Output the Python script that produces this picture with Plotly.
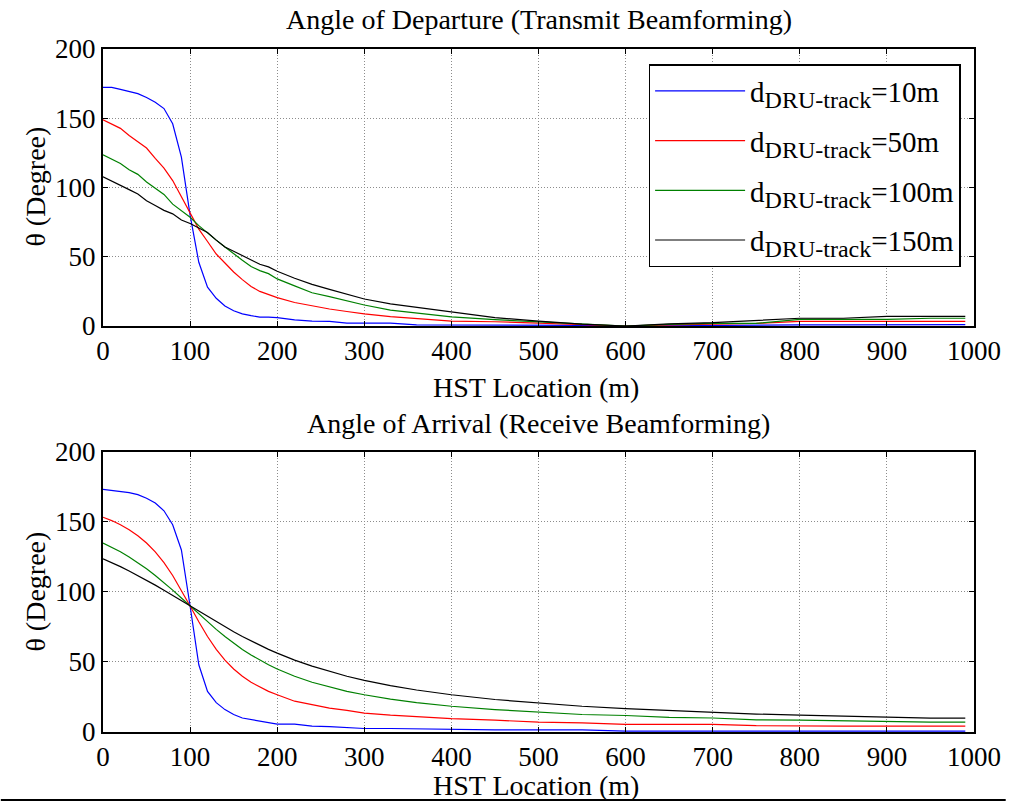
import plotly.graph_objects as go

# ---------------- data ----------------
x_pos = [0, 10, 20, 30, 40, 50, 60, 70, 80, 90,
         100, 110, 120, 130, 140, 150, 160, 170, 180, 190,
         200, 220, 240, 260, 280, 300, 330, 360, 400, 450,
         500, 550, 600, 650, 700, 750, 800, 850, 900, 950,
         990]

series_labels = ["10m", "50m", "100m", "150m"]
series_colors = ["#0000FF", "#FF0000", "#008000", "#000000"]

# Angle of Departure (top)
aod_10 = [172.3, 172.3, 170.8, 169.5, 167.8, 165.0, 161.5, 157.0, 146.0, 122.0,
          80.0, 46.0, 28.0, 20.0, 14.5, 11.0, 8.8, 7.5, 6.4, 6.4,
          6.0, 4.5, 3.5, 3.3, 2.1, 2.1, 2.1, 0.8, 0.8, 0.7,
          0.6, 0.5, 0.0, 0.3, 0.5, 0.7, 0.8, 0.9, 0.9, 1.0,
          1.0]
aod_50 = [148.9, 146.0, 142.7, 137.5, 133.0, 128.5, 121.0, 114.0, 105.0, 93.0,
          81.0, 70.0, 61.0, 52.0, 45.5, 39.0, 33.5, 28.5, 25.0, 22.5,
          20.5, 17.0, 14.5, 12.3, 10.5, 8.8, 6.8, 5.3, 3.6, 3.1,
          1.9, 0.8, 0.0, 0.8, 1.2, 1.9, 3.3, 3.3, 3.3, 3.3,
          3.3]
aod_100 = [123.6, 120.5, 117.3, 112.8, 109.5, 104.0, 99.5, 95.0, 88.0, 83.0,
           78.5, 72.5, 67.0, 62.0, 57.0, 52.0, 47.5, 43.0, 40.0, 37.8,
           34.0, 29.0, 24.0, 21.2, 18.0, 15.2, 11.5, 9.4, 6.6, 4.6,
           3.0, 1.7, 0.0, 1.2, 1.9, 1.9, 4.8, 4.8, 4.8, 5.6,
           5.6]
aod_150 = [107.8, 104.5, 101.5, 98.5, 95.3, 90.5, 87.0, 83.5, 81.0, 76.5,
           74.0, 70.5, 67.5, 62.0, 57.0, 54.0, 51.0, 47.5, 44.6, 42.7,
           39.5, 34.5, 30.1, 26.5, 22.8, 19.5, 16.0, 13.5, 10.0, 6.0,
           3.6, 1.4, 0.0, 1.5, 2.4, 4.1, 5.6, 5.6, 7.0, 7.0,
           7.0]

# Angle of Arrival (bottom)
aoa_10 = [173.3, 172.5, 172.0, 171.0, 169.5, 167.0, 163.5, 158.0, 148.0, 130.0,
          90.0, 48.0, 29.0, 21.0, 16.0, 12.5, 10.0, 8.8, 7.8, 6.8,
          5.6, 5.6, 4.2, 3.9, 3.0, 2.5, 2.5, 2.2, 1.5, 1.5,
          1.5, 1.5, 0.6, 0.6, 0.6, 0.6, 0.6, 0.6, 0.6, 0.6,
          0.6]
aoa_50 = [153.4, 151.0, 148.0, 144.5, 140.2, 135.0, 128.7, 121.0, 111.8, 101.3,
          90.0, 78.7, 68.2, 59.0, 51.3, 45.0, 39.8, 35.5, 32.0, 29.0,
          26.6, 22.0, 19.5, 17.0, 15.5, 13.5, 12.0, 11.0, 9.5, 8.5,
          7.0, 6.5, 5.5, 5.5, 5.5, 4.5, 4.2, 4.2, 4.2, 4.2,
          4.2]
aoa_100 = [135.0, 132.0, 128.7, 125.0, 121.0, 116.6, 111.8, 106.7, 101.3, 95.7,
           90.0, 84.3, 78.7, 73.3, 68.2, 63.4, 59.0, 55.0, 51.3, 48.0,
           45.0, 39.8, 35.5, 32.0, 29.0, 26.6, 23.5, 21.0, 18.4, 16.0,
           14.2, 12.5, 11.8, 10.5, 10.0, 8.7, 8.5, 8.0, 7.2, 7.0,
           7.0]
aoa_150 = [123.7, 121.0, 118.1, 115.0, 111.8, 108.4, 104.9, 101.3, 97.6, 93.8,
           90.0, 86.2, 82.4, 78.7, 75.1, 71.6, 68.2, 65.0, 61.9, 59.0,
           56.3, 51.3, 47.0, 43.2, 39.8, 36.9, 33.1, 30.0, 26.6, 23.2,
           20.6, 18.4, 16.7, 15.3, 14.3, 12.8, 12.1, 11.3, 10.6, 9.9,
           9.9]

x_ticks = [0, 100, 200, 300, 400, 500, 600, 700, 800, 900, 1000]
y_ticks = [0, 50, 100, 150, 200]

top_title = "Angle of Departure (Transmit Beamforming)"
bottom_title = "Angle of Arrival (Receive Beamforming)"
x_label = "HST Location (m)"
y_label = "θ (Degree)"

# ---------------- figure ----------------
FONT = "Liberation Serif"
fig = go.Figure()


def legend_text(lbl):
    return 'd<sub><span style="font-size:24px">DRU-track</span></sub>=' + lbl


for i, (lbl, color, ys) in enumerate(zip(series_labels, series_colors,
                                         [aod_10, aod_50, aod_100, aod_150])):
    fig.add_trace(go.Scatter(x=x_pos, y=ys, mode="lines", name=legend_text(lbl),
                             legendgroup="g%d" % i,
                             line=dict(color=color, width=1.2),
                             xaxis="x", yaxis="y", showlegend=True))
for i, (lbl, color, ys) in enumerate(zip(series_labels, series_colors,
                                         [aoa_10, aoa_50, aoa_100, aoa_150])):
    fig.add_trace(go.Scatter(x=x_pos, y=ys, mode="lines", name=legend_text(lbl),
                             legendgroup="g%d" % i,
                             line=dict(color=color, width=1.2),
                             xaxis="x2", yaxis="y2", showlegend=False))

axis_common = dict(showline=True, linecolor="black", linewidth=2, mirror="ticks",
                   ticks="inside", ticklen=5, tickcolor="black", tickwidth=1,
                   showgrid=True, gridcolor="#8c8c8c", griddash="1px,2px", gridwidth=1,
                   zeroline=False, tickfont=dict(family=FONT, size=27, color="black"))

fig.update_layout(
    width=1013, height=802,
    margin=dict(l=103, r=32, t=49, b=70),
    paper_bgcolor="white", plot_bgcolor="white",
    font=dict(family=FONT, size=27, color="black"),
    xaxis=dict(domain=[0, 1], anchor="y", range=[0, 1000], tickvals=x_ticks, **axis_common),
    yaxis=dict(domain=[0.5944, 1], anchor="x", range=[0, 200], tickvals=y_ticks, **axis_common),
    xaxis2=dict(domain=[0, 1], anchor="y2", range=[0, 1000], tickvals=x_ticks, **axis_common),
    yaxis2=dict(domain=[0, 0.41], anchor="x2", range=[0, 200], tickvals=y_ticks, **axis_common),
    legend=dict(x=0.6264, y=0.978, xanchor="left", yanchor="top",
                bgcolor="white", bordercolor="black", borderwidth=1.5,
                font=dict(family=FONT, size=29, color="black"),
                itemwidth=90, tracegroupgap=9, traceorder="grouped"),
    showlegend=True,
)

ann = dict(xref="paper", yref="paper", showarrow=False,
           font=dict(family=FONT, size=28, color="black"))
fig.add_annotation(text=top_title, x=0.5, y=1.0439, xanchor="center", yanchor="middle", **ann)
fig.add_annotation(text=x_label, x=0.497, y=0.5051, xanchor="center", yanchor="middle", **ann)
fig.add_annotation(text=bottom_title, x=0.5, y=0.4524, xanchor="center", yanchor="middle", **ann)
fig.add_annotation(text=x_label, x=0.497, y=-0.078, xanchor="center", yanchor="middle", **ann)
fig.add_annotation(text=y_label, x=-0.0774, y=0.798, xanchor="center", yanchor="middle",
                   textangle=-90, **ann)
fig.add_annotation(text=y_label, x=-0.0774, y=0.205, xanchor="center", yanchor="middle",
                   textangle=-90, **ann)

# bottom page rule
fig.add_shape(type="line", xref="paper", yref="paper", x0=-0.1173, x1=1.0364,
              y0=-0.0996, y1=-0.0996, line=dict(color="black", width=2), layer="above")

fig.write_html("out.html")
